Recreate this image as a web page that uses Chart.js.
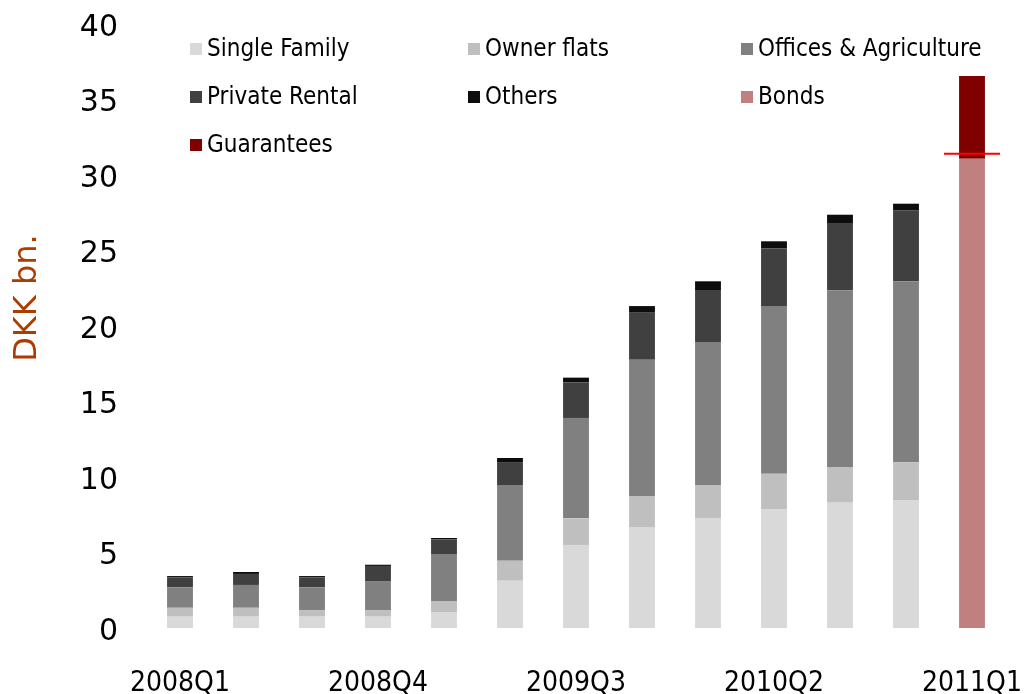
<!DOCTYPE html>
<html>
<head>
<meta charset="utf-8">
<script src="https://cdn.jsdelivr.net/npm/chart.js@4.4.1/dist/chart.umd.min.js"></script>
<style>
  html, body { margin: 0; padding: 0; background: #fff; }
  #wrap { width: 1029px; height: 694px; }
</style>
</head>
<body>
<div id="wrap"><canvas id="chart" width="1029" height="694"></canvas></div>
<script>
// quarters and series (DKK bn.)
var quarters = ['2008Q1','2008Q2','2008Q3','2008Q4','2009Q1','2009Q2','2009Q3','2009Q4','2010Q1','2010Q2','2010Q3','2010Q4','2011Q1'];
var singleFamily = [0.75, 0.75, 0.75, 0.75, 1.06, 3.13, 5.50, 6.69, 7.28, 7.88, 8.30, 8.48, 0];
var ownerFlats   = [0.59, 0.59, 0.44, 0.44, 0.73, 1.33, 1.76, 2.05, 2.19, 2.34, 2.36, 2.49, 0];
var offices      = [1.36, 1.51, 1.51, 1.92, 3.11, 5.01, 6.65, 9.03, 9.47, 11.10, 11.70, 11.99, 0];
var privRental   = [0.66, 0.73, 0.66, 1.00, 0.97, 1.52, 2.36, 3.11, 3.44, 3.83, 4.46, 4.70, 0];
var others       = [0.08, 0.13, 0.08, 0.08, 0.09, 0.27, 0.31, 0.44, 0.58, 0.46, 0.55, 0.44, 0];
var bonds        = [0, 0, 0, 0, 0, 0, 0, 0, 0, 0, 0, 0, 31.07];
var guarantees   = [0, 0, 0, 0, 0, 0, 0, 0, 0, 0, 0, 0, 5.49];
var markerIndex  = 12;    // 2011Q1
var markerValue  = 31.4;  // red level line
var yTicks = [0, 5, 10, 15, 20, 25, 30, 35, 40];

function bar(label, data, color){
  return { label: label, data: data, backgroundColor: color, borderWidth: 0,
           barPercentage: 0.8, categoryPercentage: 0.49 };
}

// no auto padding from tick labels, plot area is fixed by layout padding
function noPad(s){
  s.paddingLeft = 0; s.paddingRight = 0; s.paddingTop = 0; s.paddingBottom = 0;
}

// legend inside plot (3 columns), y title and red marker line
var extrasPlugin = {
  id: 'extras',
  afterDraw: function(chart){
    var ctx = chart.ctx;
    var cols = [190, 468, 741];
    var rows = [49, 97, 145];
    ctx.save();
    ctx.font = '24px "DejaVu Sans Condensed", "DejaVu Sans", sans-serif';
    ctx.textBaseline = 'middle';
    chart.data.datasets.forEach(function(d, i){
      var x = cols[i % 3], y = rows[Math.floor(i / 3)];
      ctx.fillStyle = d.backgroundColor;
      ctx.fillRect(x, y - 6, 12, 12);
      ctx.fillStyle = '#000';
      ctx.fillText(d.label, x + 17, y + 1);
    });

    // marker line
    var mx = chart.scales.x.getPixelForValue(markerIndex);
    var my = chart.scales.y.getPixelForValue(markerValue);
    ctx.strokeStyle = '#ff0000';
    ctx.lineWidth = 2;
    ctx.beginPath();
    ctx.moveTo(mx - 28, my);
    ctx.lineTo(mx + 28, my);
    ctx.stroke();

    ctx.translate(28, 298);
    ctx.rotate(-Math.PI / 2);
    ctx.textAlign = 'center';
    ctx.font = '32px "DejaVu Sans", sans-serif';
    ctx.fillStyle = '#ad3c00';
    ctx.fillText('DKK bn.', 0, 0);
    ctx.restore();
  }
};

new Chart(document.getElementById('chart'), {
  type: 'bar',
  data: {
    labels: quarters,
    datasets: [
      bar('Single Family', singleFamily, '#d9d9d9'),
      bar('Owner flats', ownerFlats, '#bfbfbf'),
      bar('Offices & Agriculture', offices, '#808080'),
      bar('Private Rental', privRental, '#404040'),
      bar('Others', others, '#0d0d0d'),
      bar('Bonds', bonds, '#c08080'),
      bar('Guarantees', guarantees, '#800000')
    ]
  },
  options: {
    responsive: false,
    animation: false,
    layout: { autoPadding: false, padding: { top: 24, right: 24, left: 0, bottom: 0 } },
    plugins: { legend: { display: false }, tooltip: { enabled: false } },
    scales: {
      x: {
        stacked: true,
        grid: { display: false, drawTicks: false },
        border: { display: false },
        ticks: {
          autoSkip: false, maxRotation: 0, padding: 39, color: '#000',
          font: { family: '"DejaVu Sans Condensed", "DejaVu Sans", sans-serif', size: 28 },
          callback: function(v, i){ return i % 3 === 0 ? quarters[i] : ''; }
        },
        afterFit: function(s){ s.height = 66; noPad(s); }
      },
      y: {
        stacked: true,
        min: 0, max: 40,
        grid: { display: false, drawTicks: false },
        border: { display: false },
        afterBuildTicks: function(s){ s.ticks = yTicks.map(function(v){ return { value: v }; }); },
        ticks: { padding: 29, labelOffset: 4, color: '#000', font: { family: '"DejaVu Sans", sans-serif', size: 30 } },
        afterFit: function(s){ s.width = 147; noPad(s); }
      }
    }
  },
  plugins: [extrasPlugin]
});
</script>
</body>
</html>
